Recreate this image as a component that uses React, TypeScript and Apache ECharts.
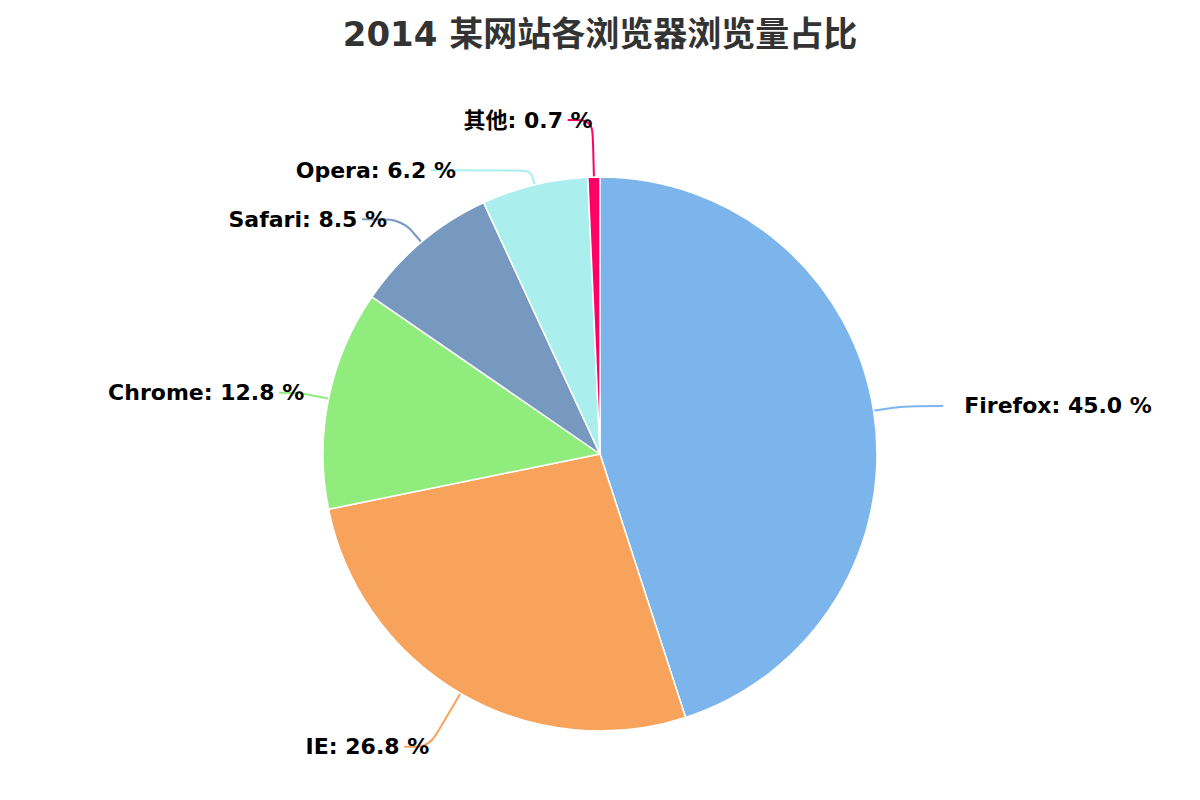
import React, { useEffect, useRef } from "react";
import * as echarts from "echarts";

const titleText = "2014 某网站各浏览器浏览量占比";
const categories = ["Firefox", "IE", "Chrome", "Safari", "Opera", "其他"];
const shares = [45.0, 26.8, 12.8, 8.5, 6.2, 0.7];
const colors = ["#7cb5ec", "#f7a35c", "#90ed7d", "#7798BF", "#aaeeee", "#ff0066"];

const FONT = '"DejaVu Sans", "Noto Sans CJK SC", sans-serif';

// connector tweaks for crowded labels (by category)
const lineTweaks: Record<string, { length: number; length2: number }> = {
  IE: { length: 62, length2: 25 },
  Chrome: { length: 30, length2: 20 },
  Opera: { length: 15, length2: 100 },
  其他: { length: 57, length2: 25 },
};

export default function App() {
  const ref = useRef<HTMLDivElement>(null);
  useEffect(() => {
    if (!ref.current) return;
    const chart = echarts.init(ref.current, undefined, { renderer: "svg" });
    chart.setOption({
      animation: false,
      backgroundColor: "#ffffff",
      title: {
        text: titleText,
        left: "center",
        top: 12,
        textStyle: { fontFamily: FONT, fontSize: 34, fontWeight: "bold", color: "#333333" },
      },
      series: [
        {
          type: "pie",
          center: [600, 454],
          radius: [0, 277],
          startAngle: 90,
          clockwise: true,
          avoidLabelOverlap: false,
          data: categories.map((c, i) => ({
            name: c,
            value: shares[i],
            itemStyle: { color: colors[i] },
            ...(lineTweaks[c] ? { labelLine: lineTweaks[c] } : {}),
          })),
          itemStyle: { borderColor: "#ffffff", borderWidth: 1.5 },
          label: {
            show: true,
            formatter: (p: any) => `${p.name}: ${p.value.toFixed(1)} %`,
            fontFamily: FONT,
            fontSize: 22,
            fontWeight: "bold",
            color: "#000000",
          },
          labelLine: { show: true, length: 30, length2: 40, smooth: 0.3, lineStyle: { width: 2 } },
          labelLayout: (params: any) => {
            const pts = params.labelLinePoints;
            if (!pts) return {};
            const end = pts[2];
            const isLeft = pts[2][0] < pts[1][0];
            const copy = pts.map((p: number[]) => [p[0], p[1]]);
            if (isLeft) {
              return { x: end[0] + 25, y: end[1], align: "right", verticalAlign: "middle", labelLinePoints: copy };
            }
            return { x: end[0] + 21, y: end[1], align: "left", verticalAlign: "middle", labelLinePoints: copy };
          },
          emphasis: { disabled: true },
        },
      ],
    });
    return () => chart.dispose();
  }, []);
  return <div ref={ref} style={{ width: 1200, height: 800, margin: -8 }} />;
}
